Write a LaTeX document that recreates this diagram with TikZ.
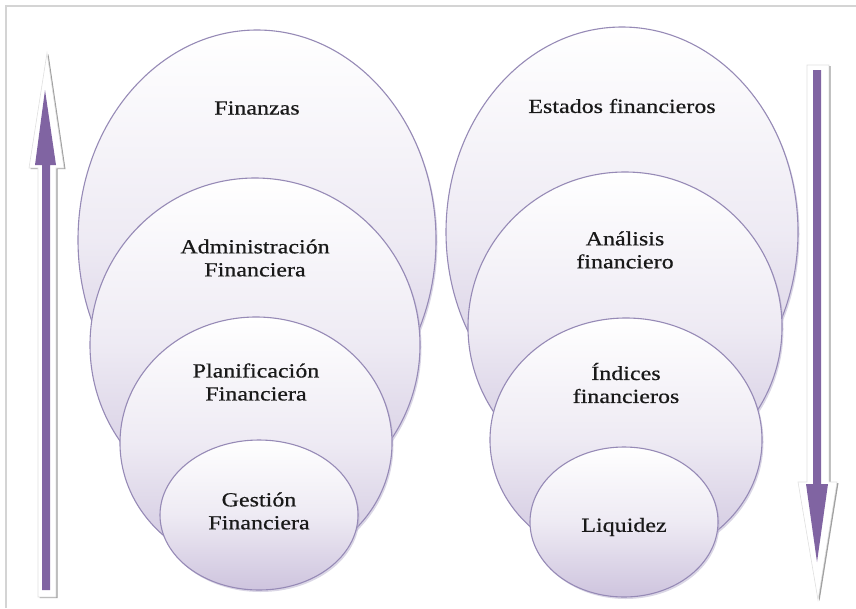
\documentclass[tikz,border=0pt]{standalone}
\usepackage{fontspec}
\setmainfont{Liberation Serif}[FakeStretch=1.2, FakeBold=0.6]
\usetikzlibrary{shadings}
\definecolor{purp}{RGB}{128,100,162}
\definecolor{lav}{RGB}{206,196,222}
\definecolor{edge}{RGB}{150,138,182}
\definecolor{frame}{RGB}{212,212,212}
\definecolor{shad}{RGB}{160,160,160}
\tikzset{
  bubble/.style={draw=edge, line width=1.1pt, top color=white, bottom color=lav, middle color=white!65!lav},
  bshadow/.style={fill=edge!70, opacity=0.5},
  lbl/.style={font=\fontsize{20}{23}\selectfont, align=center, text=black!90},
  arrowouter/.style={fill=white, draw=black!12, line width=0.6pt},
  arrowshadow/.style={fill=shad},
  arrowinner/.style={fill=purp}
}
\begin{document}
\begin{tikzpicture}[x=1pt,y=-1pt]
\useasboundingbox (0,0) rectangle (856,608);
\draw[frame, line width=2pt] (6,608) -- (6,6) -- (856,6);
% left group
\foreach \cx/\cy/\rx/\ry in {257/240/179/210, 255/345/165/167, 256/443/136/126, 259/515/99/75}{
  \fill[bshadow] (\cx+1.5,\cy+2) ellipse [x radius=\rx, y radius=\ry];
  \path[bubble] (\cx,\cy) ellipse [x radius=\rx, y radius=\ry];
}
% right group
\foreach \cx/\cy/\rx/\ry in {622/232/176/205, 625/327/157/155, 626/440/136/122, 624/522/94/75}{
  \fill[bshadow] (\cx+1.5,\cy+2) ellipse [x radius=\rx, y radius=\ry];
  \path[bubble] (\cx,\cy) ellipse [x radius=\rx, y radius=\ry];
}
\node[lbl] (fin) at (257,108) {Finanzas};
\node[lbl] (adm) at (255,258) {Administración\\Financiera};
\node[lbl] (pla) at (256,382) {Planificación\\Financiera};
\node[lbl] (ges) at (259,511) {Gestión\\Financiera};
\node[lbl] (est) at (622,106) {Estados financieros};
\node[lbl] (ana) at (625,250) {Análisis\\financiero};
\node[lbl] (ind) at (626,383) {Índices\\financieros};
\node[lbl] (liq) at (624,527) {Liquidez};
% left up arrow
\fill[arrowshadow] (48.5,54) -- (65.5,169) -- (57.5,169) -- (57.5,598) -- (39.5,598) -- (39.5,169) -- (30.5,169) -- cycle;
\path[arrowouter] (47,53) -- (64,168) -- (56,168) -- (56,597) -- (38,597) -- (38,168) -- (29,168) -- cycle;
\fill[arrowinner] (45,90) -- (56,165) -- (50,165) -- (50,590) -- (42,590) -- (42,165) -- (35,165) -- cycle;
% right down arrow
\fill[arrowshadow] (808.5,66) -- (830.5,66) -- (830.5,483) -- (838.5,483) -- (819.5,601) -- (799.5,483) -- (808.5,483) -- cycle;
\path[arrowouter] (807,65) -- (829,65) -- (829,482) -- (837,482) -- (818,600) -- (798,482) -- (807,482) -- cycle;
\fill[arrowinner] (813,70) -- (821,70) -- (821,484) -- (828,484) -- (817,562) -- (806,484) -- (813,484) -- cycle;
\end{tikzpicture}
\end{document}
